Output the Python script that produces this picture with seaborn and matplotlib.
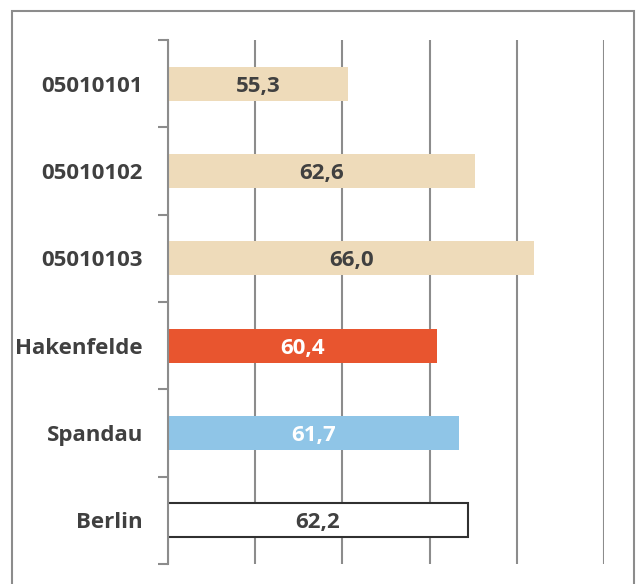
import matplotlib
matplotlib.use("Agg")
import matplotlib.pyplot as plt
import seaborn as sns
import pandas as pd
from matplotlib.patches import Rectangle
from matplotlib.ticker import FixedLocator

categories = ["05010101", "05010102", "05010103", "Hakenfelde", "Spandau", "Berlin"]
values = [55.3, 62.6, 66.0, 60.4, 61.7, 62.2]
bar_colors = ["#EEDBBA", "#EEDBBA", "#EEDBBA", "#E8552F", "#8FC5E7", "#FFFFFF"]
label_colors = ["#404040", "#404040", "#404040", "#FFFFFF", "#FFFFFF", "#404040"]
value_labels = [f"{v:.1f}".replace(".", ",") for v in values]
x_min, x_max, x_step = 45, 70, 5

sns.set_theme(style="white")
plt.rcParams["font.family"] = ["Open Sans", "DejaVu Sans"]

df = pd.DataFrame({"cat": categories, "val": values})

fig = plt.figure(figsize=(6.37, 5.84), dpi=100)
ax = fig.add_axes([168 / 637, 1 - 564 / 584, (604 - 168) / 637, (564 - 40) / 584])

sns.barplot(data=df, y="cat", x="val", hue="cat", palette=bar_colors,
            orient="h", width=0.39, legend=False, ax=ax, saturation=1)

# Berlin bar outline
for i, p in enumerate(ax.patches):
    if bar_colors[i].upper() == "#FFFFFF":
        p.set_edgecolor("#303030")
        p.set_linewidth(1.5)
    else:
        p.set_linewidth(0)

ax.set_xlim(x_min, x_max)
ax.set_ylim(len(categories) - 0.5, -0.5)
ax.set_xticks(range(x_min, x_max + 1, x_step))
ax.xaxis.grid(True, color="#8C8C8C", linewidth=1.5)
ax.yaxis.grid(False)
ax.set_axisbelow(True)
ax.tick_params(axis="x", bottom=False, labelbottom=False)

for s in ["top", "right", "bottom"]:
    ax.spines[s].set_visible(False)
ax.spines["left"].set_color("#8C8C8C")
ax.spines["left"].set_linewidth(1.5)

ax.set_xlabel("")
ax.set_ylabel("")
ax.set_yticks(range(len(categories)))
ax.set_yticklabels(categories, fontsize=16, fontweight="bold", color="#404040")
ax.tick_params(axis="y", which="major", length=0, pad=18)
ax.yaxis.set_minor_locator(FixedLocator([i - 0.5 for i in range(len(categories) + 1)]))
ax.tick_params(axis="y", which="minor", length=7, width=1.5, color="#8C8C8C", left=True)

for i, p in enumerate(ax.patches[:len(categories)]):
    w = p.get_width()
    cy = p.get_y() + p.get_height() / 2
    ax.text((x_min + w) / 2, cy + 0.03, value_labels[i], ha="center", va="center",
            fontsize=16, fontweight="bold", color=label_colors[i])

fig.patches.append(Rectangle((12 / 637, -0.05), (634 - 12) / 637, 1.05 - 11 / 584,
                             transform=fig.transFigure, fill=False,
                             edgecolor="#8C8C8C", linewidth=1.5))

fig.savefig("out.png", dpi=100)
